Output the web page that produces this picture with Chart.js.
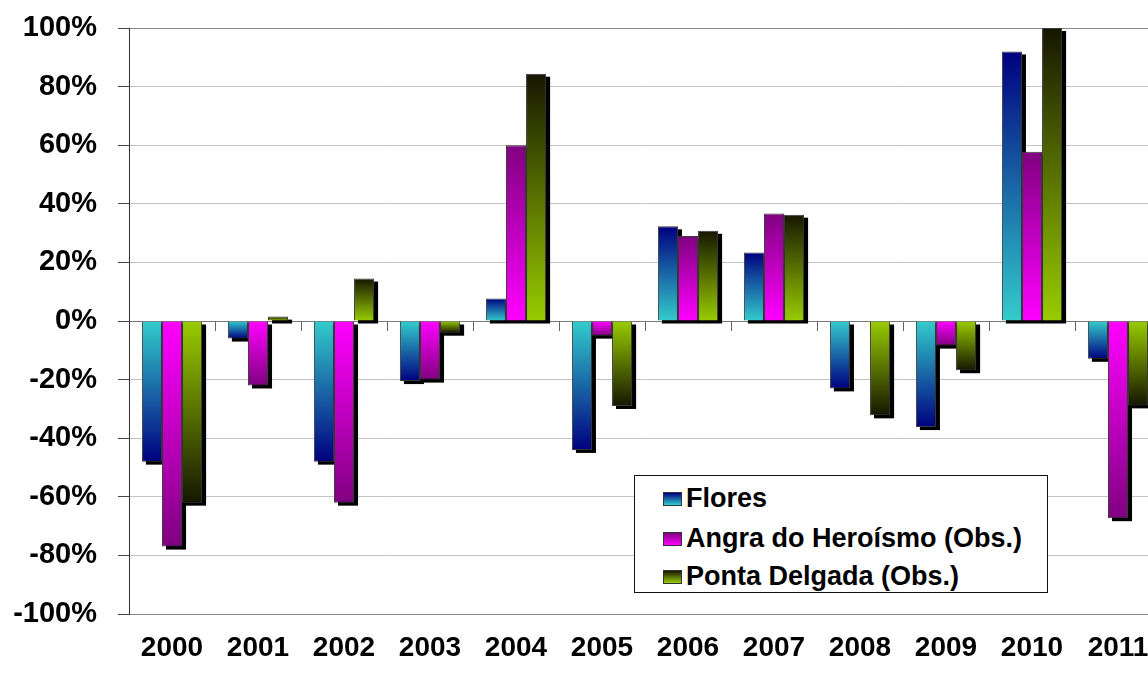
<!DOCTYPE html>
<html>
<head>
<meta charset="utf-8">
<script src="https://cdn.jsdelivr.net/npm/chart.js@4.4.1/dist/chart.umd.min.js"></script>
<style>
  html, body { margin: 0; padding: 0; background: #fff; }
  #wrap { position: relative; width: 1148px; height: 673px; overflow: hidden; background: #fff; }
  #c { position: absolute; left: 0; top: 0; }
  #legend { position: absolute; left: 634px; top: 475px; width: 412px; height: 116px;
    border: 1px solid #111; background: #fff; font-family: 'Liberation Sans', Arial, sans-serif;
    font-weight: bold; font-size: 27px; color: #000; }
  .row { position: absolute; left: 28px; height: 30px; line-height: 30px; white-space: nowrap; }
  .sw { display: inline-block; width: 17px; height: 12px; border: 1px solid #333; margin-right: 4px; vertical-align: 1px; }
</style>
</head>
<body>
<div id="wrap">
  <canvas id="c" width="1165" height="673"></canvas>
  <div id="legend"></div>
</div>
<script>
const years = ['2000','2001','2002','2003','2004','2005','2006','2007','2008','2009','2010','2011'];
const flores = [-48, -6, -48, -20.5, 7.7, -44, 32.3, 23.4, -23, -36.2, 92, -12.9];
const angra  = [-77, -22, -62, -20, 60, -5, 29, 36.7, null, -8.4, 57.8, -67.3];
const ponta  = [-62, 1.5, 14.5, -4, 84.4, -29, 30.8, 36.3, -32.2, -16.8, 100, -28.8];
const yTicks = [-100, -80, -60, -40, -20, 0, 20, 40, 60, 80, 100];
const seriesNames = ['Flores', 'Angra do Heroísmo (Obs.)', 'Ponta Delgada (Obs.)'];
const colorsBase = ['#33CCCC', '#FF00FF', '#99CC00'];
const colorsTip  = ['#000080', '#800080', '#161600'];

function grad(i) {
  return (ctx) => {
    const chart = ctx.chart;
    const y = chart.scales && chart.scales.y;
    if (!y || ctx.type !== 'data' || ctx.raw == null) return colorsBase[i];
    const p0 = y.getPixelForValue(0), p1 = y.getPixelForValue(ctx.raw);
    if (!isFinite(p0) || !isFinite(p1) || Math.abs(p0 - p1) < 0.5) return colorsBase[i];
    const g = chart.ctx.createLinearGradient(0, p0, 0, p1);
    g.addColorStop(0, colorsBase[i]);
    g.addColorStop(1, colorsTip[i]);
    return g;
  };
}

const shadowPlugin = {
  id: 'barShadow',
  beforeDatasetsDraw(chart) {
    const ctx = chart.ctx;
    const a = chart.chartArea;
    ctx.save();
    ctx.beginPath();
    ctx.rect(a.left, a.top, a.right - a.left, a.bottom - a.top + 6);
    ctx.clip();
    ctx.fillStyle = '#000';
    chart.data.datasets.forEach((ds, i) => {
      const meta = chart.getDatasetMeta(i);
      meta.data.forEach((bar, j) => {
        if (ds.data[j] == null) return;
        const p = bar.getProps(['x', 'y', 'base', 'width'], true);
        if (!isFinite(p.y) || !isFinite(p.base)) return;
        const top = Math.min(p.y, p.base), h = Math.abs(p.base - p.y);
        ctx.fillRect(p.x - p.width / 2 + 4, top + 3, p.width, h);
      });
    });
    ctx.restore();
  }
};

const FONT = "'Liberation Sans', Arial, sans-serif";
const datasets = [flores, angra, ponta].map((d, i) => ({
  label: seriesNames[i],
  data: d,
  backgroundColor: grad(i),
  borderColor: '#3a3a3a',
  borderWidth: 1,
  categoryPercentage: 0.7,
  barPercentage: 1.0,
  xAxisID: 'x'
}));

new Chart(document.getElementById('c'), {
  type: 'bar',
  data: { labels: years, datasets },
  plugins: [shadowPlugin],
  options: {
    responsive: false,
    animation: false,
    devicePixelRatio: 1,
    layout: { padding: { left: 0, right: 4, top: 28, bottom: 0 } },
    plugins: { legend: { display: false }, tooltip: { enabled: false } },
    scales: {
      x: {
        type: 'category',
        position: 'bottom',
        offset: true,
        grid: { display: false, drawTicks: false },
        border: { display: true, color: '#8a8a8a', width: 1 },
        ticks: { color: '#000', font: { family: FONT, size: 28, weight: 'bold' }, padding: 17, maxRotation: 0, autoSkip: false },
        afterFit: s => { s.height = 59; s.paddingLeft = 0; s.paddingRight = 0; }
      },
      x2: {
        type: 'category',
        position: { y: 0 },
        offset: true,
        grid: { display: true, drawOnChartArea: false, drawTicks: true, tickLength: 9, offset: true, color: '#666', tickColor: '#666' },
        border: { display: true, color: '#7a7a7a', width: 1 },
        ticks: { display: false }
      },
      y: {
        min: -100, max: 100,
        afterBuildTicks: s => { s.ticks = yTicks.map(v => ({ value: v })); },
        grid: {
          color: c => (c.tick && (c.tick.value === 100 || c.tick.value === -100)) ? '#8a8a8a' : '#c4c4c4',
          tickColor: '#444', tickLength: 11, lineWidth: 1
        },
        border: { display: true, color: '#333', width: 1 },
        ticks: { color: '#000', font: { family: FONT, size: 29, weight: 'bold' }, padding: 21, callback: v => v + '%' },
        afterFit: s => { s.width = 129; s.paddingTop = 0; s.paddingBottom = 0; }
      }
    }
  }
});

const legend = document.getElementById('legend');
const rowTops = [7, 47, 85];
seriesNames.forEach((n, i) => {
  const r = document.createElement('div');
  r.className = 'row';
  r.style.top = rowTops[i] + 'px';
  const sw = document.createElement('span');
  sw.className = 'sw';
  sw.style.background = 'linear-gradient(to bottom, ' + colorsTip[i] + ', ' + colorsBase[i] + ')';
  r.appendChild(sw);
  r.appendChild(document.createTextNode(n));
  legend.appendChild(r);
});
</script>
</body>
</html>
